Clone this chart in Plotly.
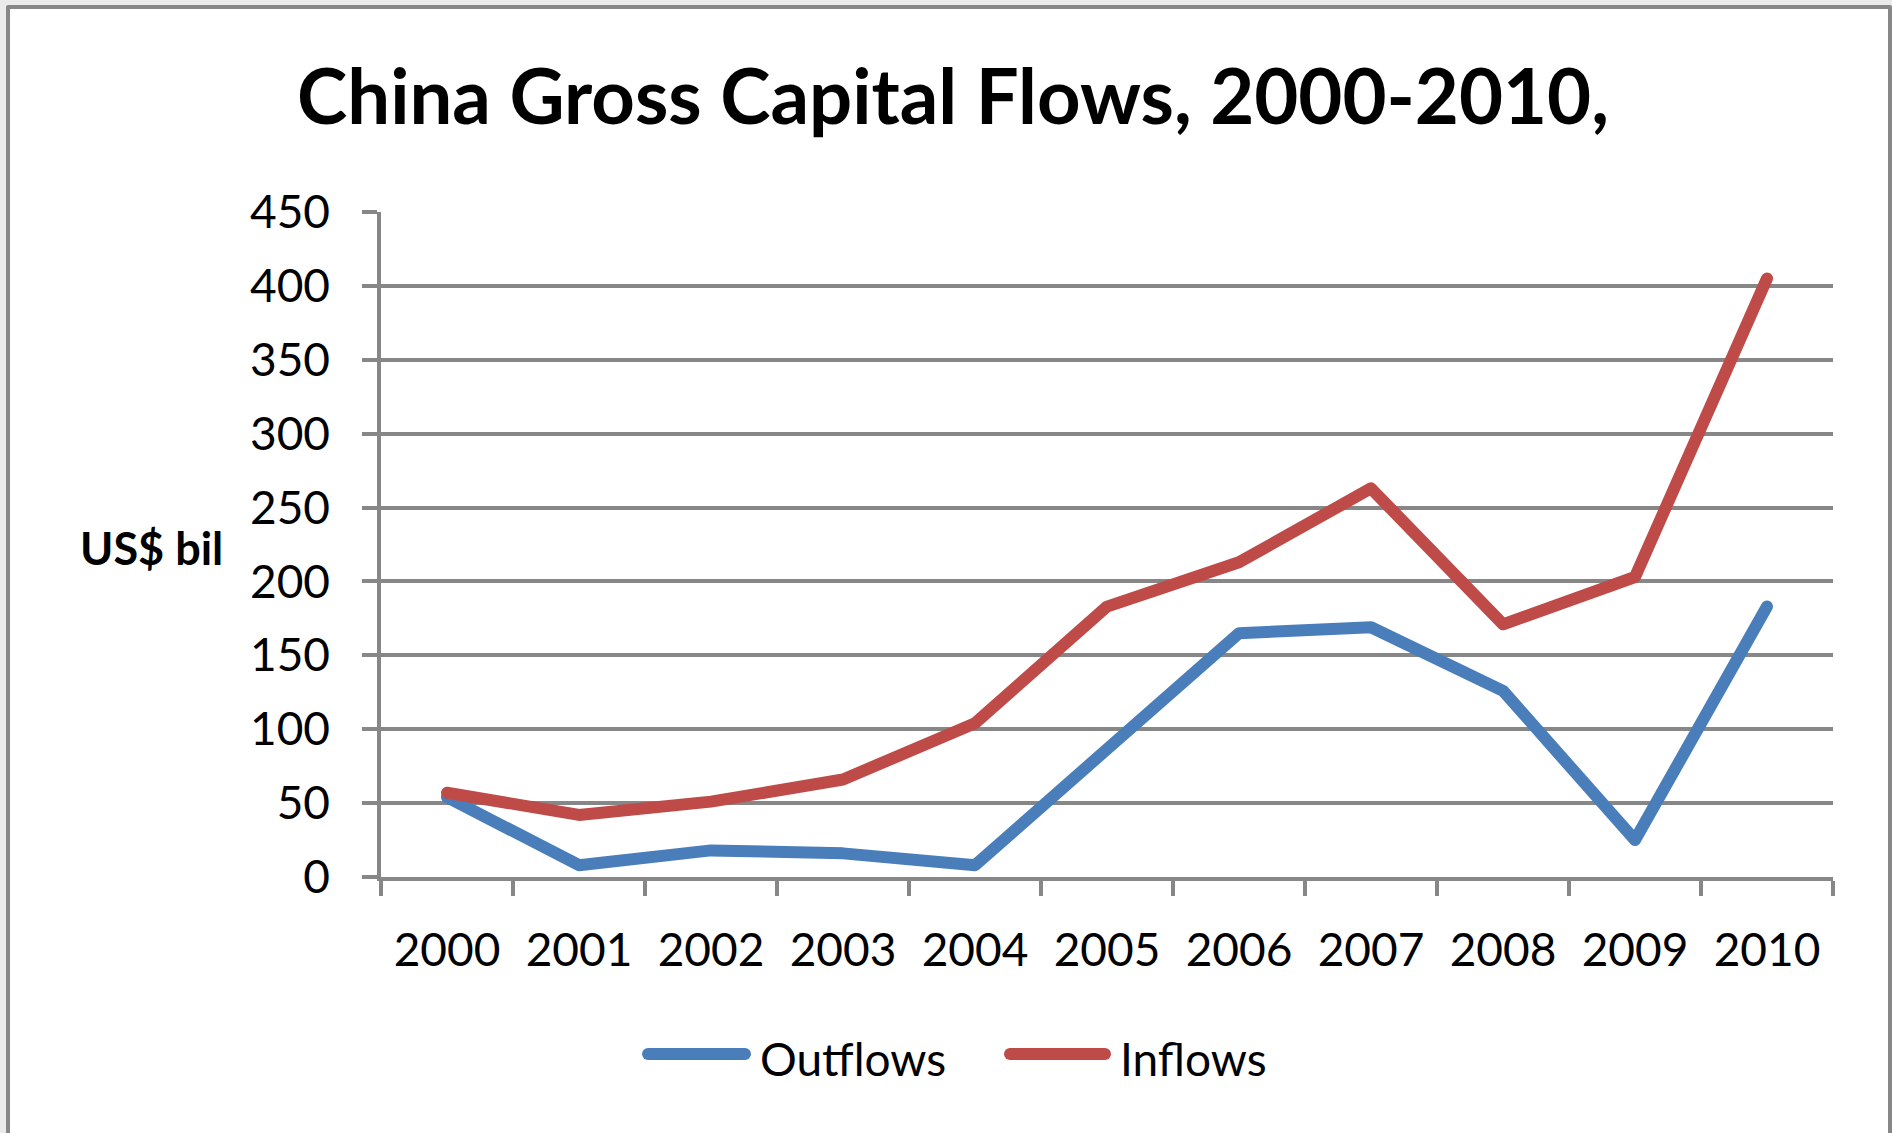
import plotly.graph_objects as go

years = ["2000", "2001", "2002", "2003", "2004", "2005", "2006", "2007", "2008", "2009", "2010"]
outflows = [54, 8, 18, 16, 8, 87, 165, 169, 126, 25, 183]
inflows = [57, 42, 51, 66, 104, 183, 213, 263, 171, 203, 405]
y_ticks = [0, 50, 100, 150, 200, 250, 300, 350, 400, 450]

BLUE = "#4A7EBB"
RED = "#BE4B48"
GRID = "#878787"
FONT = "Lato"

W, H = 1892, 1133
L, R, T, B = 381, 59, 212, 256
pw, ph = W - L - R, H - T - B

def px(x):
    return (x - L) / pw

def py(y):
    return (H - B - y) / ph

fig = go.Figure()
fig.add_trace(go.Scatter(x=years, y=outflows, name="Outflows", mode="lines",
                         line=dict(color=BLUE, width=12), showlegend=False))
fig.add_trace(go.Scatter(x=years, y=inflows, name="Inflows", mode="lines",
                         line=dict(color=RED, width=12), showlegend=False))

shapes = [
    dict(type="rect", xref="paper", yref="paper", x0=px(8), x1=px(1890), y0=py(1145), y1=py(7),
         fillcolor="white", line=dict(color=GRID, width=4), layer="below"),
    dict(type="line", xref="paper", yref="paper", x0=px(648), x1=px(745), y0=py(1054), y1=py(1054),
         line=dict(color=BLUE, width=12)),
    dict(type="line", xref="paper", yref="paper", x0=px(1010), x1=px(1105), y0=py(1054), y1=py(1054),
         line=dict(color=RED, width=12)),
]

annotations = [
    dict(text="<b>US$ bil</b>", xref="paper", yref="paper", x=px(225), y=py(548),
         xanchor="right", yanchor="middle", showarrow=False,
         font=dict(family=FONT, size=45, color="black")),
    dict(text="Outflows", xref="paper", yref="paper", x=px(758), y=py(1058),
         xanchor="left", yanchor="middle", showarrow=False,
         font=dict(family=FONT, size=46, color="black")),
    dict(text="Inflows", xref="paper", yref="paper", x=px(1118), y=py(1058),
         xanchor="left", yanchor="middle", showarrow=False,
         font=dict(family=FONT, size=46, color="black")),
]

fig.update_layout(
    width=W, height=H,
    margin=dict(l=L, r=R, t=T, b=B),
    paper_bgcolor="#EBEBEB",
    plot_bgcolor="rgba(0,0,0,0)",
    title=dict(text="<b>China Gross Capital Flows, 2000-2010,</b>", x=953 / W, xref="container",
               xanchor="center", y=1 - 97 / H, yanchor="middle",
               font=dict(family=FONT, size=76, color="black")),
    shapes=shapes,
    annotations=annotations,
    showlegend=False,
    font=dict(family=FONT, color="black"),
)

fig.update_xaxes(
    type="category", tickson="boundaries", ticks="outside", ticklen=15, tickwidth=3.5, tickcolor=GRID,
    showline=True, linecolor=GRID, linewidth=3.5, showgrid=False,
    tickfont=dict(family=FONT, size=46, color="black"), ticklabelstandoff=30,
    range=[-0.5, 10.5],
)
fig.update_yaxes(
    range=[0, 450], tickvals=y_ticks, ticks="outside", ticklen=15, tickwidth=3.5, tickcolor=GRID,
    showline=True, linecolor=GRID, linewidth=3.5, showgrid=True, gridcolor=GRID, gridwidth=3.5,
    zeroline=False, tickfont=dict(family=FONT, size=46, color="black"), ticklabelstandoff=23,
)

post = (
    "document.body.style.margin='0';document.body.style.overflow='hidden';"
    "var gd=document.getElementById('{plot_id}');"
    "function caps(){gd.querySelectorAll('.scatterlayer path.js-line, .shapelayer path').forEach("
    "function(p){p.style.strokeLinecap='round';p.style.strokeLinejoin='round';});}"
    "caps();gd.on('plotly_afterplot',caps);"
)

fig.write_html("out.html", post_script=post, config={"displayModeBar": False})
